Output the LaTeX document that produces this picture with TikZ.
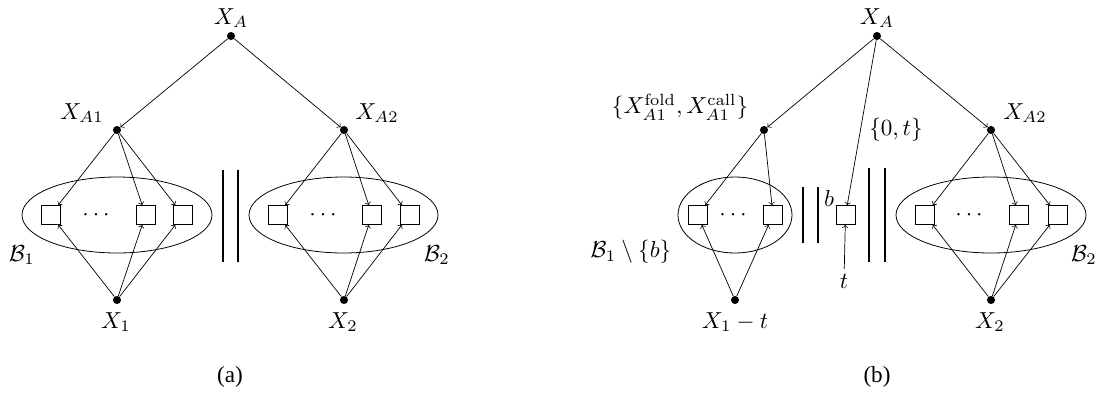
\documentclass[tikz,border=0pt]{standalone}
\usepackage[no-math]{fontspec}
\newfontfamily\capfont{Liberation Serif}
\begin{document}
\begin{tikzpicture}[x=0.57pt,y=-0.57pt,
  dot/.style={circle,fill=black,inner sep=0pt,minimum size=4.6pt},
  box/.style={draw,line width=0.45pt,inner sep=0pt,minimum size=10.8pt},
  arr/.style={->,line width=0.4pt},
  bar/.style={line width=1.5pt},
  ell/.style={line width=0.45pt},
  lbl/.style={inner sep=0pt,scale=1.32}]
\useasboundingbox (0,0) rectangle (1104,397);
% ---------------- panel (a)
\node[dot] (xa) at (231,36) {};
\node[dot] (xa1) at (117,130) {};
\node[dot] (xa2) at (344,130) {};
\node[dot] (x1) at (117,300) {};
\node[dot] (x2) at (344,300) {};
\node[lbl] (lxa) at (231,18) {$X_A$};
\node[lbl] (lxa1) at (82,113) {$X_{A1}$};
\node[lbl] (lxa2) at (377,113) {$X_{A2}$};
\node[lbl] (lx1) at (116,322) {$X_1$};
\node[lbl] (lx2) at (343,322) {$X_2$};
\node[lbl] (lb1) at (22,255) {$\mathcal{B}_1$};
\node[lbl] (lb2) at (437,255) {$\mathcal{B}_2$};
\coordinate (e1) at (117,215);
\coordinate (e2) at (343.5,215);
\draw[ell] (e1) ellipse [x radius=95, y radius=38];
\draw[ell] (e2) ellipse [x radius=94.5, y radius=38];
\node[box] (s11) at (50.5,215) {};
\node[box] (s12) at (145.5,215) {};
\node[box] (s13) at (183,215) {};
\node[lbl] (d1) at (96,215) {$\cdots$};
\node[box] (s21) at (277.5,215) {};
\node[box] (s22) at (372,215) {};
\node[box] (s23) at (409.5,215) {};
\node[lbl] (d2) at (323,215) {$\cdots$};
\draw[arr] (xa) -- (xa1);
\draw[arr] (xa) -- (xa2);
\foreach \s in {s11,s12,s13}{\draw[arr] (xa1) -- (\s); \draw[arr] (x1) -- (\s);}
\foreach \s in {s21,s22,s23}{\draw[arr] (xa2) -- (\s); \draw[arr] (x2) -- (\s);}
\coordinate (ba1) at (223,170); \coordinate (ba1e) at (223,262);
\coordinate (ba2) at (238,170); \coordinate (ba2e) at (238,262);
\draw[bar] (ba1) -- (ba1e);
\draw[bar] (ba2) -- (ba2e);
\node[lbl] (capa) at (230,377) {\capfont (a)};
% ---------------- panel (b)
\node[dot] (ya) at (877,36) {};
\node[dot] (ya1) at (764,130) {};
\node[dot] (ya2) at (991,130) {};
\node[dot] (y1) at (735,300) {};
\node[dot] (y2) at (991,300) {};
\node[lbl] (lya) at (877,18) {$X_A$};
\node[lbl] (lya1) at (680,107) {$\{X_{A1}^{\mathrm{fold}},X_{A1}^{\mathrm{call}}\}$};
\node[lbl] (lya2) at (1025,113) {$X_{A2}$};
\node[lbl] (l0t) at (896,130) {$\{0,t\}$};
\node[lbl] (ly1) at (735,322) {$X_1-t$};
\node[lbl] (ly2) at (990,322) {$X_2$};
\node[lbl] (lc1) at (631,252) {$\mathcal{B}_1\setminus\{b\}$};
\node[lbl] (lc2) at (1084,255) {$\mathcal{B}_2$};
\coordinate (f1) at (735,215);
\coordinate (f2) at (991,215);
\draw[ell] (f1) ellipse [x radius=57, y radius=38];
\draw[ell] (f2) ellipse [x radius=95, y radius=38];
\node[box] (t11) at (697.5,215) {};
\node[box] (t12) at (773,215) {};
\node[lbl] (d3) at (733,215) {$\cdots$};
\node[box] (bq) at (845.5,215) {};
\node[lbl] (lbq) at (829,198) {$b$};
\node[lbl,inner sep=2pt] (lt) at (844,281) {$t$};
\node[box] (u1) at (925,215) {};
\node[box] (u2) at (1019,215) {};
\node[box] (u3) at (1057.5,215) {};
\node[lbl] (d4) at (969,215) {$\cdots$};
\draw[arr] (ya) -- (ya1);
\draw[arr] (ya) -- (ya2);
\draw[arr] (ya) -- (bq);
\draw[arr] (lt) -- (bq);
\foreach \s in {t11,t12}{\draw[arr] (ya1) -- (\s); \draw[arr] (y1) -- (\s);}
\foreach \s in {u1,u2,u3}{\draw[arr] (ya2) -- (\s); \draw[arr] (y2) -- (\s);}
\coordinate (bb1) at (803,187); \coordinate (bb1e) at (803,243);
\coordinate (bb2) at (818,187); \coordinate (bb2e) at (818,243);
\coordinate (bb3) at (869,168); \coordinate (bb3e) at (869,262);
\coordinate (bb4) at (885,168); \coordinate (bb4e) at (885,262);
\draw[bar] (bb1) -- (bb1e);
\draw[bar] (bb2) -- (bb2e);
\draw[bar] (bb3) -- (bb3e);
\draw[bar] (bb4) -- (bb4e);
\node[lbl] (capb) at (877,377) {\capfont (b)};
\end{tikzpicture}
\end{document}
